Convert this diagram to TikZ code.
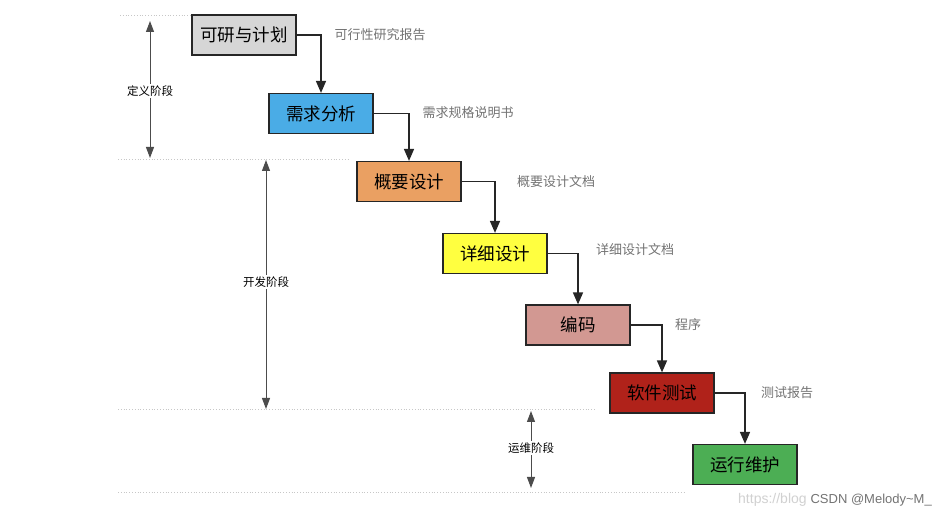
\documentclass[tikz,border=0pt]{standalone}
\usepackage{fontspec}
\setmainfont{Noto Sans CJK SC}
\newfontfamily\wmfont{Liberation Sans}
\usetikzlibrary{arrows.meta}
\begin{document}
\begin{tikzpicture}[x=1pt,y=-1pt,
  box/.style={draw=black!85, line width=1.2pt, minimum width=104pt, minimum height=40pt, inner sep=0pt, font=\fontsize{17.5}{19}\selectfont},
  flow/.style={draw=black!85, line width=1.5pt, -{Triangle[length=12pt,width=10pt]}},
  outdoc/.style={text=black!55, inner sep=0pt, font=\fontsize{13}{15}\selectfont},
  guide/.style={draw=black!22, dotted, line width=0.8pt},
  span/.style={draw=black!70, line width=1pt, {Triangle[length=11pt,width=8pt]}-{Triangle[length=11pt,width=8pt]}},
  phase/.style={fill=white, inner sep=1.5pt, font=\fontsize{11.5}{13}\selectfont}]
\useasboundingbox[fill=white] (0,0) rectangle (943,518);

% guide lines
\draw[guide] (120,15) -- (192,15);
\draw[guide] (118,159) -- (350,159);
\draw[guide] (118,409) -- (596,409);
\draw[guide] (118,492) -- (685,492);

% boxes
\node[box, fill=black!16] (b1) at (244,35) {可研与计划};
\node[box, fill={rgb,255:red,74;green,172;blue,230}] (b2) at (321,113.5) {需求分析};
\node[box, fill={rgb,255:red,234;green,160;blue,98}] (b3) at (409,181.5) {概要设计};
\node[box, fill={rgb,255:red,255;green,255;blue,64}] (b4) at (495,253.5) {详细设计};
\node[box, fill={rgb,255:red,210;green,152;blue,146}] (b5) at (578,325) {编码};
\node[box, fill={rgb,255:red,176;green,34;blue,26}] (b6) at (662,393) {软件测试};
\node[box, fill={rgb,255:red,76;green,174;blue,84}] (b7) at (745,464.5) {运行维护};

% flow arrows
\draw[flow] (b1.east) -| (b2.north);
\draw[flow] (b2.east) -| (b3.north);
\draw[flow] (b3.east) -| (b4.north);
\draw[flow] (b4.east) -| (b5.north);
\draw[flow] (b5.east) -| (b6.north);
\draw[flow] (b6.east) -| (b7.north);

% output documents
\node[outdoc] (d1) at (380,35) {可行性研究报告};
\node[outdoc] (d2) at (468,113) {需求规格说明书};
\node[outdoc] (d3) at (556,182) {概要设计文档};
\node[outdoc] (d4) at (635,250) {详细设计文档};
\node[outdoc] (d5) at (688,325) {程序};
\node[outdoc] (d6) at (787,393) {测试报告};

% phase spans
\coordinate (p1t) at (150,21);
\coordinate (p1b) at (150,158);
\coordinate (p2t) at (266,160);
\coordinate (p2b) at (266,409);
\coordinate (p3t) at (531,411);
\coordinate (p3b) at (531,488);
\draw[span] (p1t) -- (p1b);
\draw[span] (p2t) -- (p2b);
\draw[span] (p3t) -- (p3b);
\node[phase] (ph1) at (150,91) {定义阶段};
\node[phase] (ph2) at (266,282) {开发阶段};
\node[phase] (ph3) at (531,448) {运维阶段};

% watermark
\node[anchor=west, text=black!18, inner sep=0pt, font=\wmfont\fontsize{14}{16}\selectfont] (wm1) at (738,500) {https://blog};
\node[anchor=east, text=black!55, inner sep=0pt, font=\wmfont\fontsize{13}{15}\selectfont] (wm2) at (932,500) {CSDN @Melody\textasciitilde M\_};
\end{tikzpicture}
\end{document}
